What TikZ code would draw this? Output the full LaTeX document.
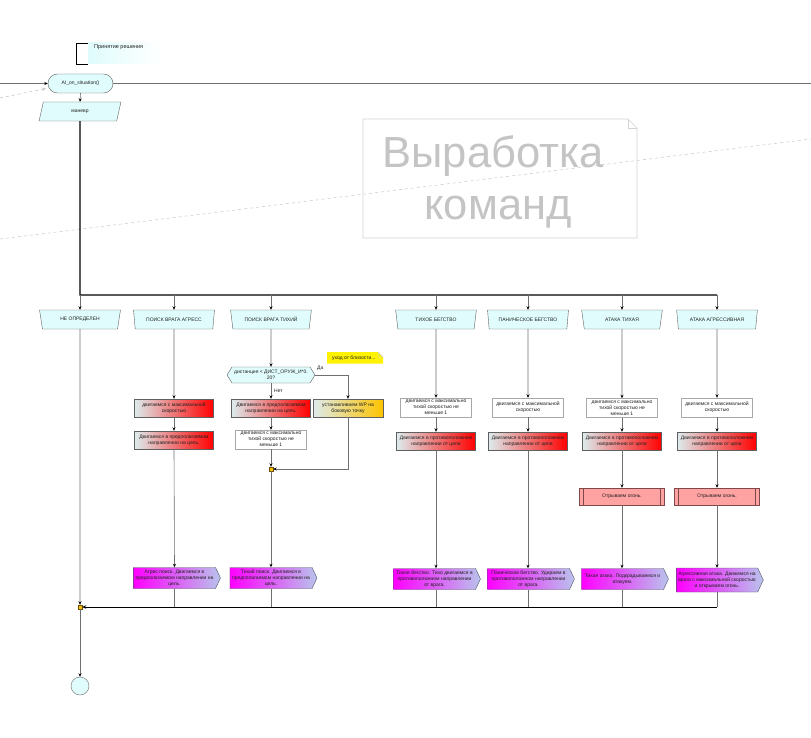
\documentclass[tikz,border=0pt]{standalone}
\usepackage{fontspec}
\setmainfont{Liberation Sans}
\usetikzlibrary{shapes.geometric,shapes.symbols,arrows.meta}
\definecolor{cy}{HTML}{E0FCFC}
\definecolor{bd}{HTML}{606060}
\definecolor{lg}{HTML}{707070}
\definecolor{txt}{HTML}{202020}
\definecolor{pale}{HTML}{DDEBEC}
\definecolor{wb}{HTML}{A8A8A8}
\definecolor{tb}{HTML}{505068}
\definecolor{mag}{HTML}{FF00FF}
\definecolor{lav}{HTML}{B8C4EC}
\definecolor{fire}{HTML}{FFA2A2}
\definecolor{fb}{HTML}{804848}
\definecolor{jy}{HTML}{F2C200}
\definecolor{jb}{HTML}{705000}
\definecolor{gold}{HTML}{FFC400}
\definecolor{wm}{HTML}{C4C4C4}
\definecolor{wmb}{HTML}{D4D4D4}
\definecolor{dsh}{HTML}{C8C8C8}
\begin{document}
\begin{tikzpicture}[x=1pt,y=-1pt,
  tiny/.style={font=\fontsize{5}{6}\selectfont, text=txt},
  conn/.style={draw=lg, line width=0.6pt},
  arr/.style={conn, -{Stealth[length=3.5pt,width=3pt,color=black]}},
  hdr/.style={trapezium, shape border rotate=180, trapezium stretches=true, trapezium angle=71, minimum width=81pt, minimum height=19pt, draw=bd, fill=cy, inner sep=0pt, tiny},
  redbox/.style={rectangle, draw=bd, left color=pale, right color=red, minimum width=79pt, minimum height=18pt, inner sep=1pt, align=center, tiny},
  wpbox/.style={rectangle, draw=bd, left color=pale, right color=gold, minimum width=70pt, minimum height=18pt, inner sep=1pt, align=center, tiny},
  whitebox/.style={rectangle, draw=wb, fill=white, minimum width=71pt, minimum height=19pt, inner sep=1pt, align=center, tiny},
  tagbox/.style={signal, signal to=east, signal pointer angle=130, draw=tb, left color=mag, right color=lav, minimum width=87pt, minimum height=21pt, inner sep=1pt, align=center, tiny},
  firebox/.style={rectangle, draw=fb, fill=fire, minimum width=85pt, minimum height=17pt, tiny},
  firel/.style={draw=fb, line width=0.6pt},
  jct/.style={rectangle, draw=jb, fill=jy, minimum size=4pt, inner sep=0pt},
  lbl/.style={tiny, inner sep=1pt},
  trunk/.style={draw=black, line width=1.4pt},
  merge/.style={draw=black, line width=0.9pt, -{Stealth[length=4pt,width=3.5pt,color=black]}},
]
\useasboundingbox (0,0) rectangle (811,738);
\fill[white] (0,0) rectangle (811,738);

% background dashed lines
\coordinate (dlA) at (0,239);
\coordinate (dlB) at (811,139);
\draw[dsh, dashed, line width=0.5pt] (dlA) -- (dlB);

% watermark note
\draw[wmb, line width=0.6pt] (363,119) -- (628,119) -- (637,128) -- (637,238) -- (363,238) -- cycle;
\draw[wmb, line width=0.6pt] (628,119) -- (628,128) -- (637,128);
\node[font=\fontsize{43.5}{44}\selectfont, text=wm, anchor=base] (wm1) at (493,168) {Выработка};
\node[font=\fontsize{43.5}{44}\selectfont, text=wm, anchor=base] (wm2) at (498,220) {команд};

% title
\fill[left color=cy, right color=white] (88,43) rectangle (162,64);
\draw[black, line width=0.8pt] (88,43) -- (76,43) -- (76,64) -- (88,64);
\node[font=\fontsize{5.5}{6}\selectfont, text=txt, anchor=north west, inner sep=0pt] (title) at (94,45) {Принятие решения};

% start
\node[rectangle, rounded corners=9.5pt, draw=bd, fill=cy, minimum width=65pt, minimum height=19pt, inner sep=0pt, tiny] (ai) at (80.5,83.5) {AI\_on\_situation()};
\coordinate (lin) at (0,83.5);
\coordinate (rout) at (811,83.5);
\draw[arr] (lin) -- (ai.west);
\draw[conn] (ai.east) -- (rout);
\coordinate (dsA) at (0,98);
\coordinate (dsE) at (46,88.5);
\draw[dsh, dashed, line width=0.6pt, -{Stealth[length=4pt,width=3.5pt,open]}] (dsA) -- (dsE);

\node[trapezium, trapezium left angle=75, trapezium right angle=105, trapezium stretches=true, minimum width=82pt, minimum height=19pt, draw=bd, fill=cy, inner sep=0pt, tiny] (mv) at (80,111.5) {маневр};
\draw[arr] (ai.south) -- (mv.north);

% headers
\node[hdr] (h1) at (80,319.5) {НЕ ОПРЕДЕЛЕН};
\node[hdr] (h2) at (174,319.5) {ПОИСК ВРАГА АГРЕСС};
\node[hdr] (h3) at (271,319.5) {ПОИСК ВРАГА ТИХИЙ};
\node[hdr] (h4) at (436,319.5) {ТИХОЕ БЕГСТВО};
\node[hdr] (h5) at (528,319.5) {ПАНИЧЕСКОЕ БЕГСТВО};
\node[hdr] (h6) at (622,319.5) {АТАКА ТИХАЯ};
\node[hdr] (h7) at (717,319.5) {АТАКА АГРЕССИВНАЯ};

\coordinate (bus) at (80,295);
\coordinate (busend) at (717,295);
\draw[trunk] (mv.south) -- (bus) -- (busend);
\foreach \h in {h1,h2,h3,h4,h5,h6,h7}{
  \draw[arr] (\h.north |- bus) -- (\h.north);
}

% junctions / end
\node[jct] (j0) at (80,607) {};
\node[jct] (j1) at (271,469) {};
\node[circle, draw=lg, fill=cy, minimum size=18pt, inner sep=0pt] (endc) at (80,686) {};
\draw[arr] (h1.south) -- (j0.north);
\draw[arr] (j0.south) -- (endc.north);

% column 2
\node[redbox] (a1) at (174,408) {двигаемся с максимальной\\скоростью};
\node[redbox] (a2) at (174,440) {Двигаемся в предполагаемом\\направлении на цель.};
\node[tagbox] (a3) at (174.5,578) {Агрес поиск. Двигаемся в\\предполагаемом направлении на\\цель.};
\draw[arr] (h2.south) -- (a1.north);
\draw[arr] (a1.south) -- (a2.north);
\draw[arr] (a2.south) -- (a3.north);
\draw[conn] (a3.south) -- (a3.south |- j0);

% column 3
\node[signal, signal to=east and west, signal pointer angle=116, draw=bd, fill=cy, minimum width=88pt, minimum height=16pt, inner sep=0.5pt, align=center, tiny] (hx) at (271,375) {дистанция < ДИСТ\_ОРУЖ\_И*0.\\20?};
\node[redbox] (b1) at (271,408) {Двигаемся в предполагаемом\\направлении на цель.};
\node[whitebox] (b2) at (271,439.5) {двигаемся с максимально\\тихой скоростью не\\меньше 1};
\node[wpbox] (wp) at (348,408) {устанавливаем WP на\\боковую точку};
\node[tagbox] (b3) at (271,578) {Тихий поиск. Двигаемся в\\предполагаемом направлении на\\цель.};
\draw[arr] (h3.south) -- (hx.north);
\draw[arr] (hx.east) -| (wp.north);
\node[lbl, anchor=south west] (yes) at (316,372) {Да};
\draw[arr] (hx.south) -- (b1.north);
\node[lbl, anchor=west] (no) at (273,391) {Нет};
\draw[arr] (b1.south) -- (b2.north);
\draw[arr] (b2.south) -- (j1.north);
\draw[arr] (wp.south) |- (j1.east);
\draw[arr] (j1.south) -- (b3.north);
\draw[conn] (b3.south) -- (b3.south |- j0);

% yellow note
\fill[yellow] (327,352) -- (378,352) -- (383,357) -- (383,363.5) -- (327,363.5) -- cycle;
\draw[wmb, line width=0.5pt] (378,352) -- (378,357) -- (383,357) -- cycle;
\node[lbl, anchor=west] (nt) at (331,358) {уход от близости...};

% column 4
\node[whitebox] (c1) at (436,407.5) {двигаемся с максимально\\тихой скоростью не\\меньше 1};
\node[redbox] (c2) at (436,441) {Двигаемся в противоположном\\направлении от цели};
\node[tagbox] (c3) at (434.5,579) {Тихое бегство. Тихо двигаемся в\\противоположном направлении\\от врага.};
\draw[arr] (h4.south) -- (c1.north);
\draw[arr] (c1.south) -- (c2.north);
\draw[arr] (c2.south) -- (c2.south |- c3.north);
\draw[conn] (c2.south |- c3.south) -- (c2.south |- j0);

% column 5
\node[whitebox] (d1) at (528,407.5) {двигаемся с максимальной\\скоростью};
\node[redbox] (d2) at (528,441) {Двигаемся в противоположном\\направлении от цели};
\node[tagbox] (d3) at (528.5,579) {Паническое бегство. Удираем в\\противоположном направлении\\от врага.};
\draw[arr] (h5.south) -- (d1.north);
\draw[arr] (d1.south) -- (d2.north);
\draw[arr] (d2.south) -- (d2.south |- d3.north);
\draw[conn] (d2.south |- d3.south) -- (d2.south |- j0);

% column 6
\node[whitebox] (e1) at (622,408) {двигаемся с максимально\\тихой скоростью не\\меньше 1};
\node[redbox] (e2) at (622,441) {Двигаемся в противоположном\\направлении от цели};
\node[firebox] (e3) at (622,496.5) {Отрываем огонь.};
\draw[firel] ([xshift=4pt]e3.north west) -- ([xshift=4pt]e3.south west);
\draw[firel] ([xshift=-4pt]e3.north east) -- ([xshift=-4pt]e3.south east);
\node[tagbox] (e4) at (622.5,579) {Тихая атака. Подкрадываемся и\\атакуем.};
\draw[arr] (h6.south) -- (e1.north);
\draw[arr] (e1.south) -- (e2.north);
\draw[arr] (e2.south) -- (e3.north);
\draw[arr] (e3.south) -- (e3.south |- e4.north);
\draw[conn] (e3.south |- e4.south) -- (e3.south |- j0);

% column 7
\node[whitebox] (f1) at (717,407.5) {двигаемся с максимальной\\скоростью};
\node[redbox] (f2) at (717,441) {Двигаемся в противоположном\\направлении от цели};
\node[firebox] (f3) at (717,496.5) {Отрываем огонь.};
\draw[firel] ([xshift=4pt]f3.north west) -- ([xshift=4pt]f3.south west);
\draw[firel] ([xshift=-4pt]f3.north east) -- ([xshift=-4pt]f3.south east);
\node[tagbox, minimum height=24pt] (f4) at (717,580) {Агрессивная атака. Движемся на\\врага с максимальной скоростью\\и открываем огонь.};
\draw[arr] (h7.south) -- (f1.north);
\draw[arr] (f1.south) -- (f2.north);
\draw[arr] (f2.south) -- (f3.north);
\draw[arr] (f3.south) -- (f3.south |- f4.north);
\draw[conn] (f3.south |- f4.south) -- (f3.south |- j0);

% merge line
\coordinate (mend) at (717,607);
\draw[merge] (mend) -- (j0.east);
\end{tikzpicture}
\end{document}
